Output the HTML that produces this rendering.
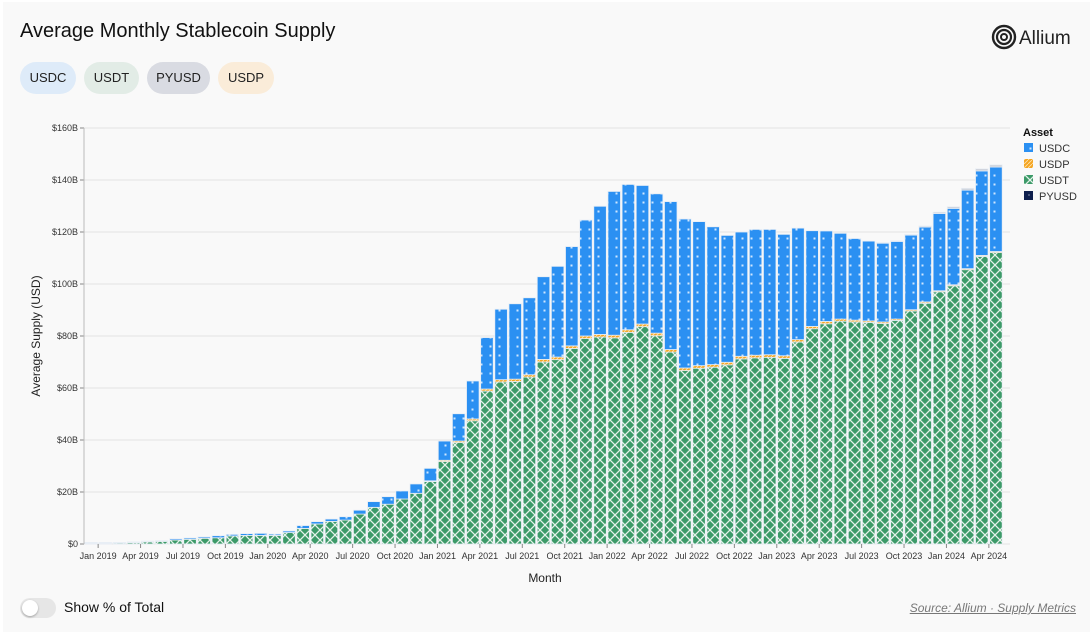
<!DOCTYPE html>
<html><head><meta charset="utf-8">
<style>
body{margin:0;background:#fff;font-family:"Liberation Sans","DejaVu Sans",sans-serif;}
#card{position:absolute;left:3px;top:2px;width:1087px;height:630px;background:#f9f9f9;}
#title{position:absolute;left:20px;top:20px;font-size:20px;color:#111;}
.pill{position:absolute;top:62px;height:32px;border-radius:16px;font-size:13px;color:#222;line-height:32px;text-align:center;}
#logo{position:absolute;left:991px;top:24px;font-size:19px;color:#222;}
#toggle{position:absolute;left:20px;top:598px;width:36px;height:20px;border-radius:10px;background:#e6e6e6;}
#toggle .knob{position:absolute;left:2px;top:2px;width:16px;height:16px;border-radius:8px;background:#fff;box-shadow:0 1px 2px rgba(0,0,0,.3);}
#tlabel{position:absolute;left:64px;top:599px;font-size:14px;color:#111;}
#source{position:absolute;right:16px;top:601px;font-size:12px;color:#777;font-style:italic;text-decoration:underline;}
svg text{font-family:"Liberation Sans",sans-serif;}
</style></head><body>
<div id="card"></div>
<div id="title">Average Monthly Stablecoin Supply</div>
<div class="pill" style="left:20px;width:56px;background:#deebf9">USDC</div>
<div class="pill" style="left:84px;width:55px;background:#e2ece6">USDT</div>
<div class="pill" style="left:147px;width:63px;background:#d9dbe2">PYUSD</div>
<div class="pill" style="left:218px;width:56px;background:#faecd9">USDP</div>
<div id="logo"><svg width="26" height="26" viewBox="0 0 26 26" style="vertical-align:-6px;margin-right:2px"><circle cx="13" cy="13" r="11" fill="none" stroke="#222" stroke-width="2.4"/><circle cx="13" cy="13" r="7" fill="none" stroke="#222" stroke-width="2.2"/><circle cx="13" cy="13" r="3" fill="none" stroke="#222" stroke-width="2"/></svg>Allium</div>
<svg id="chart" width="1092" height="634" style="position:absolute;left:0;top:0">
<defs>
<pattern id="pUSDC" width="9" height="9" patternUnits="userSpaceOnUse"><rect width="9" height="9" fill="#2b90f2"/><rect x="3.5" y="3.5" width="2" height="2" fill="#cfe6ff"/></pattern>
<pattern id="pUSDT" width="10" height="10" patternUnits="userSpaceOnUse"><rect width="10" height="10" fill="#3c9a68"/><path d="M0 0L10 10M10 0L0 10" stroke="#e4f2ea" stroke-width="1.3"/></pattern>
<pattern id="pUSDP" width="4" height="4" patternUnits="userSpaceOnUse"><rect width="4" height="4" fill="#f5a623"/><path d="M0 4L4 0" stroke="#fde3b0" stroke-width="0.8"/></pattern>
<pattern id="pPY" width="6" height="6" patternUnits="userSpaceOnUse"><rect width="6" height="6" fill="#0e1f4d"/><rect x="2.5" y="2.5" width="1" height="1" fill="#fff"/></pattern>
</defs>
<g id="grid"></g><g id="bars"></g><g id="axes"></g>
<text x="40" y="336" transform="rotate(-90 40 336)" text-anchor="middle" font-size="12" fill="#222">Average Supply (USD)</text>
<text x="545" y="582" text-anchor="middle" font-size="12" fill="#222">Month</text>
<g>
<text x="1023" y="136" font-size="11" font-weight="bold" fill="#111">Asset</text>
<rect x="1024" y="143" width="9" height="9" fill="url(#pUSDC)"/><text x="1039" y="152" font-size="11" fill="#333">USDC</text>
<rect x="1024" y="159" width="9" height="9" fill="url(#pUSDP)"/><text x="1039" y="168" font-size="11" fill="#333">USDP</text>
<rect x="1024" y="175" width="9" height="9" fill="url(#pUSDT)"/><text x="1039" y="184" font-size="11" fill="#333">USDT</text>
<rect x="1024" y="191" width="9" height="9" fill="url(#pPY)"/><text x="1039" y="200" font-size="11" fill="#333">PYUSD</text>
</g>
</svg>
<div id="toggle"><div class="knob"></div></div>
<div id="tlabel">Show % of Total</div>
<div id="source">Source: Allium · Supply Metrics</div>
<script>
// totals and components in $B, bar 0 = Dec 2018 ... bar 64 = Apr 2024
const totals = [0.6,0.6,0.6,0.8,1.1,1.3,2.0,2.3,2.7,3.2,3.7,4.0,4.1,3.8,5.0,7.1,8.6,9.6,10.5,13.0,16.3,18.2,20.4,23.1,29.1,39.6,50.1,62.7,79.4,90.3,92.4,94.7,102.8,106.8,114.4,124.6,129.9,135.6,138.3,137.9,134.7,131.7,125.0,124.0,122.0,118.7,120.0,121.0,121.0,119.1,121.5,120.5,120.4,119.5,117.5,116.5,115.9,116.6,119.1,122.3,127.6,129.7,136.8,144.3,145.8];
const usdt = [0.3,0.3,0.4,0.5,0.8,1.0,1.5,1.8,2.2,2.4,3.1,3.3,3.3,3.3,4.4,6.0,7.7,8.7,9.2,11.5,14.1,15.3,17.3,19.5,24.0,31.7,39.0,47.4,58.8,62.3,62.5,64.2,70.0,70.9,75.2,79.0,79.6,79.3,81.4,83.6,80.1,73.8,66.7,67.6,68.0,68.9,71.2,71.6,71.8,71.4,77.7,82.8,84.7,85.7,85.4,85.2,84.8,86.0,89.6,92.6,97.0,99.3,105.5,110.6,112.1];
const usdp = [0,0,0,0,0,0,0,0,0,0,0,0,0,0,0,0,0,0,0,0,0,0,0,0,0.3,0.5,0.6,0.7,0.8,0.9,0.9,0.9,1.0,1.0,1.0,1.0,1.0,1.0,1.0,1.0,1.0,1.0,1.0,1.0,1.0,1.0,1.0,1.0,1.0,1.0,0.9,0.9,0.9,0.8,0.7,0.6,0.6,0.5,0.5,0.5,0.4,0.4,0.4,0.4,0.4];
const pyusd = [0,0,0,0,0,0,0,0,0,0,0,0,0,0,0,0,0,0,0,0,0,0,0,0,0,0,0,0,0,0,0,0,0,0,0,0,0,0,0,0,0,0,0,0,0,0,0,0,0,0,0,0,0,0,0,0,0.1,0.2,0.3,0.4,0.5,0.6,0.7,0.8,0.8];
const yTicks = [0,20,40,60,80,100,120,140,160];
const yTickLabels = ["$0","$20B","$40B","$60B","$80B","$100B","$120B","$140B","$160B"];
const xTickLabels = ["Jan 2019","Apr 2019","Jul 2019","Oct 2019","Jan 2020","Apr 2020","Jul 2020","Oct 2020","Jan 2021","Apr 2021","Jul 2021","Oct 2021","Jan 2022","Apr 2022","Jul 2022","Oct 2022","Jan 2023","Apr 2023","Jul 2023","Oct 2023","Jan 2024","Apr 2024"];

const NS="http://www.w3.org/2000/svg";
const X0=84, X1=1003, Y0=544, Y1=128, N=totals.length;
const bw=(X1-X0)/N;
const y=v=>Y0-(v/160)*(Y0-Y1);
const xL=i=>X0+i*bw;
function mk(tag,attrs,parent){const e=document.createElementNS(NS,tag);for(const k in attrs)e.setAttribute(k,attrs[k]);parent.appendChild(e);return e;}
const grid=document.getElementById('grid'),bars=document.getElementById('bars'),axes=document.getElementById('axes');
yTicks.forEach((t,k)=>{
  const g=mk('line',{x1:X0,x2:1010,y1:y(t),y2:y(t),stroke:'#e3e3e3','stroke-width':1},grid);
  
  
  mk('line',{x1:X0-4,x2:X0,y1:y(t),y2:y(t),stroke:'#888'},axes);
  const tx=mk('text',{x:X0-6,y:y(t)+3,'text-anchor':'end','font-size':9,fill:'#333'},axes);
  tx.textContent=yTickLabels[k];
  
  
});
mk('line',{x1:X0,x2:X0,y1:Y1,y2:Y0,stroke:'#bbb'},axes);
xTickLabels.forEach((l,k)=>{
  const xx=xL(k*3+1);
  mk('line',{x1:xx,x2:xx,y1:Y0,y2:Y0+4,stroke:'#888'},axes);
  const tx=mk('text',{x:xx,y:Y0+15,'text-anchor':'middle','font-size':9,fill:'#333'},axes);
  tx.textContent=l;
  
  
});
for(let i=0;i<N;i++){
  const usdc=Math.max(0,totals[i]-usdt[i]-usdp[i]-pyusd[i]);
  const segs=[['usdt',usdt[i],'url(#pUSDT)'],['usdp',usdp[i],'url(#pUSDP)'],['usdc',usdc,'url(#pUSDC)'],['pyusd',pyusd[i],'#c9cdd6']];
  let base=0;
  segs.forEach(s=>{
    const v=s[1]; if(v<=0)return;
    const r=mk('rect',{x:xL(i)+0.8,width:bw-1.6,y:y(base+v),height:Math.max(0.6,y(base)-y(base+v)),fill:s[2],stroke:'#e8eef5','stroke-width':0.8},bars);
    
    
    base+=v;
  });
}
</script>
</body></html>
